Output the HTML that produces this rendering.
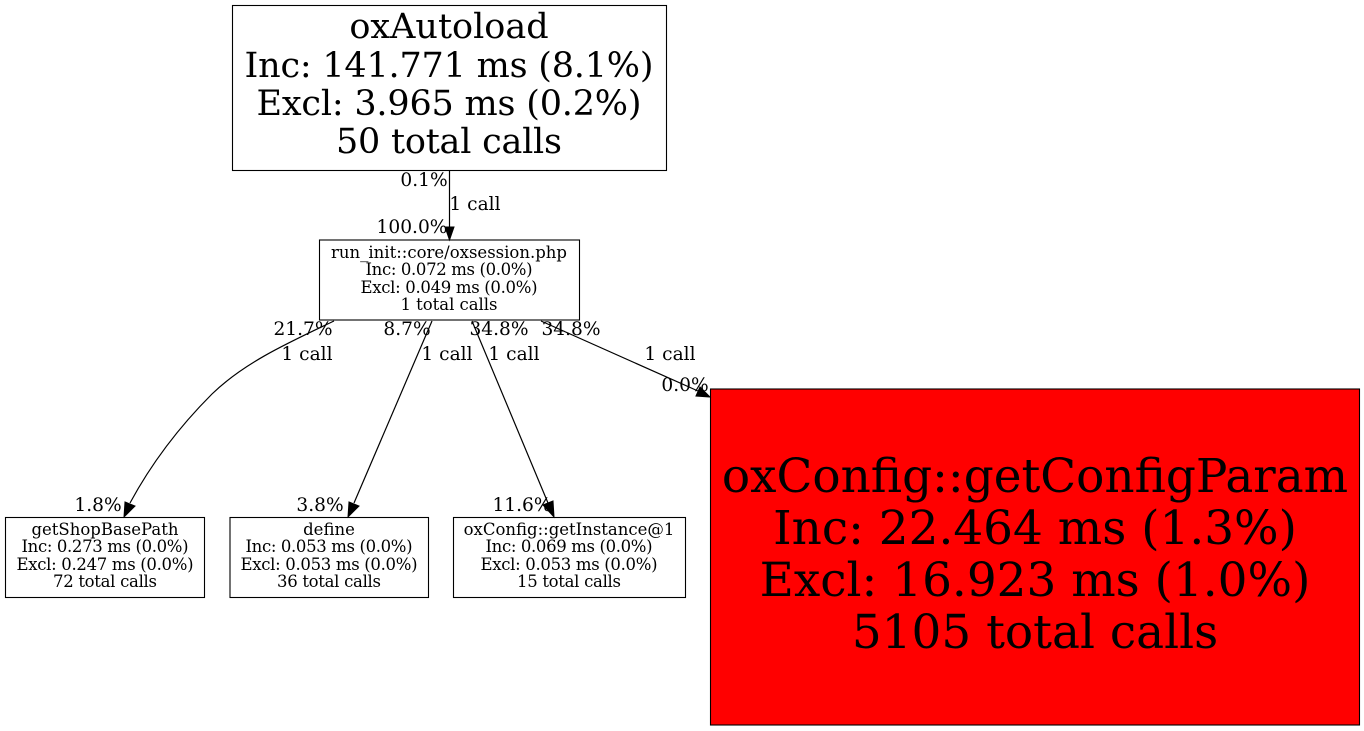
<!DOCTYPE html>
<html><head><meta charset="utf-8"><style>html,body{margin:0;padding:0;background:#fff;width:1364px;height:731px;overflow:hidden}svg{display:block}text{font-family:"DejaVu Serif",serif;fill:#000}</style></head><body>
<svg width="1364" height="731" viewBox="0 0 1364 731" xmlns="http://www.w3.org/2000/svg">
<rect x="0" y="0" width="1364" height="731" fill="#fff"/>
<g fill="#fff" stroke="#000" stroke-width="1.1">
<rect x="232.5" y="5.500" width="434" height="165"/>
<rect x="319.5" y="240" width="260" height="80"/>
<rect x="5.5" y="517.500" width="199" height="80"/>
<rect x="230" y="517.500" width="198.500" height="80"/>
<rect x="453.5" y="517.500" width="232" height="80"/>
<rect x="710.5" y="389" width="649" height="336" fill="#f00"/>
</g>
<g fill="none" stroke="#000" stroke-width="1.2">
<path d="M449.5 171V228"/>
<path d="M334 321C290 342 245 362 212 394C178 428 150 466 130 503"/>
<path d="M432 321L354 503"/>
<path d="M472 321L548 503"/>
<path d="M541 321L698 391"/>
</g>
<g fill="#000" stroke="#000" stroke-width="1">
<path d="M445 227L454 227L449.5 240Z"/>
<path d="M125 502L135 506L124 517Z"/>
<path d="M349 502L359 506L348 517Z"/>
<path d="M543 505L553 501L554 517Z"/>
<path d="M696 396L700 387L710 397Z"/>
</g>
<g text-anchor="middle" font-size="35">
<text x="449" y="38">oxAutoload</text>
<text x="449" y="77" textLength="409">Inc: 141.771 ms (8.1%)</text>
<text x="449" y="115" textLength="385">Excl: 3.965 ms (0.2%)</text>
<text x="449" y="153" textLength="226">50 total calls</text>
</g>
<g text-anchor="middle" font-size="16.500">
<text x="449" y="258">run_init::core/oxsession.php</text>
<text x="449" y="275" textLength="167">Inc: 0.072 ms (0.0%)</text>
<text x="449" y="293" textLength="177">Excl: 0.049 ms (0.0%)</text>
<text x="449" y="310" textLength="97">1 total calls</text>
<text x="105" y="535">getShopBasePath</text>
<text x="105" y="552" textLength="167">Inc: 0.273 ms (0.0%)</text>
<text x="105" y="570" textLength="177">Excl: 0.247 ms (0.0%)</text>
<text x="105" y="587" textLength="104">72 total calls</text>
<text x="329" y="535">define</text>
<text x="329" y="552" textLength="167">Inc: 0.053 ms (0.0%)</text>
<text x="329" y="570" textLength="177">Excl: 0.053 ms (0.0%)</text>
<text x="329" y="587" textLength="104">36 total calls</text>
<text x="569" y="535">oxConfig::getInstance@1</text>
<text x="569" y="552" textLength="167">Inc: 0.069 ms (0.0%)</text>
<text x="569" y="570" textLength="177">Excl: 0.053 ms (0.0%)</text>
<text x="569" y="587" textLength="104">15 total calls</text>
</g>
<g text-anchor="middle" font-size="46.900">
<text x="1035" y="492">oxConfig::getConfigParam</text>
<text x="1035" y="544">Inc: 22.464 ms (1.3%)</text>
<text x="1035" y="596">Excl: 16.923 ms (1.0%)</text>
<text x="1035" y="648">5105 total calls</text>
</g>
<g font-size="18.600" text-anchor="middle">
<text x="424" y="186">0.1%</text>
<text x="475" y="210">1 call</text>
<text x="412" y="233">100.0%</text>
<text x="303" y="335">21.7%</text>
<text x="307" y="360">1 call</text>
<text x="407" y="335">8.7%</text>
<text x="447" y="360">1 call</text>
<text x="499" y="335">34.8%</text>
<text x="514" y="360">1 call</text>
<text x="571" y="335">34.8%</text>
<text x="670" y="360">1 call</text>
<text x="685" y="391">0.0%</text>
<text x="98" y="511">1.8%</text>
<text x="320" y="511">3.8%</text>
<text x="522" y="511">11.6%</text>
</g>
</svg>
</body></html>
